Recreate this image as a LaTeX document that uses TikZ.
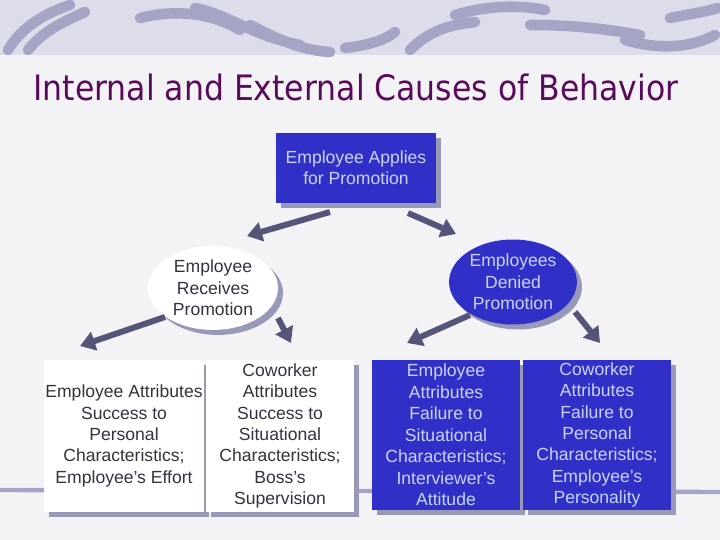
\documentclass[tikz,border=0pt]{standalone}
\usepackage{fontspec}
\setmainfont{Liberation Sans}
\usetikzlibrary{arrows.meta, shapes.geometric, shadows}
\definecolor{boxblue}{HTML}{3030C8}
\definecolor{boxtext}{HTML}{C8D4FF}
\definecolor{greytext}{HTML}{333340}
\definecolor{shade}{HTML}{9898B8}
\definecolor{arrowgrey}{HTML}{55557A}
\definecolor{band}{HTML}{DCDCEA}
\definecolor{swirl}{HTML}{A4A4C4}
\definecolor{paper}{HTML}{F3F3F5}
\definecolor{titlecol}{HTML}{5A0A5A}
\tikzset{
  shadowed/.style={drop shadow={shadow xshift=1mm, shadow yshift=-1mm, fill=shade, opacity=1}},
  bluebox/.style={rectangle, fill=boxblue, text=boxtext, shadowed, align=center, inner sep=1pt,
    font=\fontsize{10}{12.2}\selectfont},
  whitebox/.style={bluebox, fill=white, text=greytext},
  blueoval/.style={bluebox, ellipse},
  whiteoval/.style={whitebox, ellipse},
  arr/.style={arrowgrey, line width=3.4pt, -{Triangle[length=3mm,width=3.8mm]}}
}
\begin{document}
\begin{tikzpicture}[x=0.02cm, y=-0.02cm]
  \fill[paper] (0,0) rectangle (720,540);
  \useasboundingbox (0,0) rectangle (720,540);
  % top band with swirls
  \fill[band] (0,0) rectangle (720,55);
  \begin{scope}[swirl, line width=6pt, line cap=round]
    \draw (8,50) .. controls (20,30) and (40,15) .. (70,5);
    \draw (28,50) .. controls (40,35) and (55,25) .. (85,12);
    \draw (140,18) .. controls (180,8) and (215,15) .. (240,30);
    \draw (250,25) .. controls (280,40) and (300,50) .. (330,52);
    \draw (195,8) .. controls (230,15) and (250,35) .. (300,45);
    \draw (345,48) .. controls (370,45) and (385,40) .. (395,32);
    \draw (410,50) .. controls (430,30) and (450,25) .. (475,22);
    \draw (455,15) .. controls (490,5) and (520,5) .. (545,10);
    \draw (530,25) .. controls (570,25) and (600,28) .. (640,35);
    \draw (625,40) .. controls (660,50) and (690,48) .. (715,35);
    \draw (670,18) .. controls (690,14) and (705,12) .. (718,8);
  \end{scope}
  % bottom line
  \draw[swirl, line width=2.5pt] (0,490) -- (720,492);
  % title
  \node[text=titlecol, inner sep=0pt] (title) at (356,87)
    {\resizebox{12.9cm}{!}{\fontspec{DejaVu Sans Condensed}Internal and External Causes of Behavior}};
  % nodes
  \node[bluebox, minimum width=3.22cm, minimum height=1.4cm] (applies) at (356,168)
    {Employee Applies\\for Promotion};
  \node[whiteoval, minimum width=2.6cm, minimum height=1.65cm] (receives) at (213,288)
    {Employee\\Receives\\Promotion};
  \node[blueoval, minimum width=2.5cm, minimum height=1.7cm] (denied) at (513,282)
    {Employees\\Denied\\Promotion};
  \node[whitebox, minimum width=3.1cm, minimum height=3.04cm] (empSucc) at (124,436)
    {Employee Attributes\\Success to\\Personal\\Characteristics;\\Employee’s Effort};
  \node[whitebox, minimum width=2.96cm, minimum height=3.04cm] (cowSucc) at (280,436)
    {Coworker\\Attributes\\Success to\\Situational\\Characteristics;\\Boss’s\\Supervision};
  \node[bluebox, minimum width=2.96cm, minimum height=3.0cm] (empFail) at (446,435)
    {Employee\\Attributes\\Failure to\\Situational\\Characteristics;\\Interviewer’s\\Attitude};
  \node[bluebox, minimum width=2.96cm, minimum height=3.0cm] (cowFail) at (597,435)
    {Coworker\\Attributes\\Failure to\\Personal\\Characteristics;\\Employee’s\\Personality};
  % arrow ends
  \coordinate (a1) at (330,212);
  \coordinate (a2) at (408,213);
  \coordinate (b1) at (165,317);
  \coordinate (b2) at (278,318);
  \coordinate (c1) at (470,315);
  \coordinate (c2) at (575,312);
  \draw[arr] (a1) -- (247,236);
  \draw[arr] (a2) -- (456,234);
  \draw[arr] (b1) -- (80,346);
  \draw[arr] (b2) -- (291,343);
  \draw[arr] (c1) -- (407,343);
  \draw[arr] (c2) -- (600,343);
\end{tikzpicture}
\end{document}
